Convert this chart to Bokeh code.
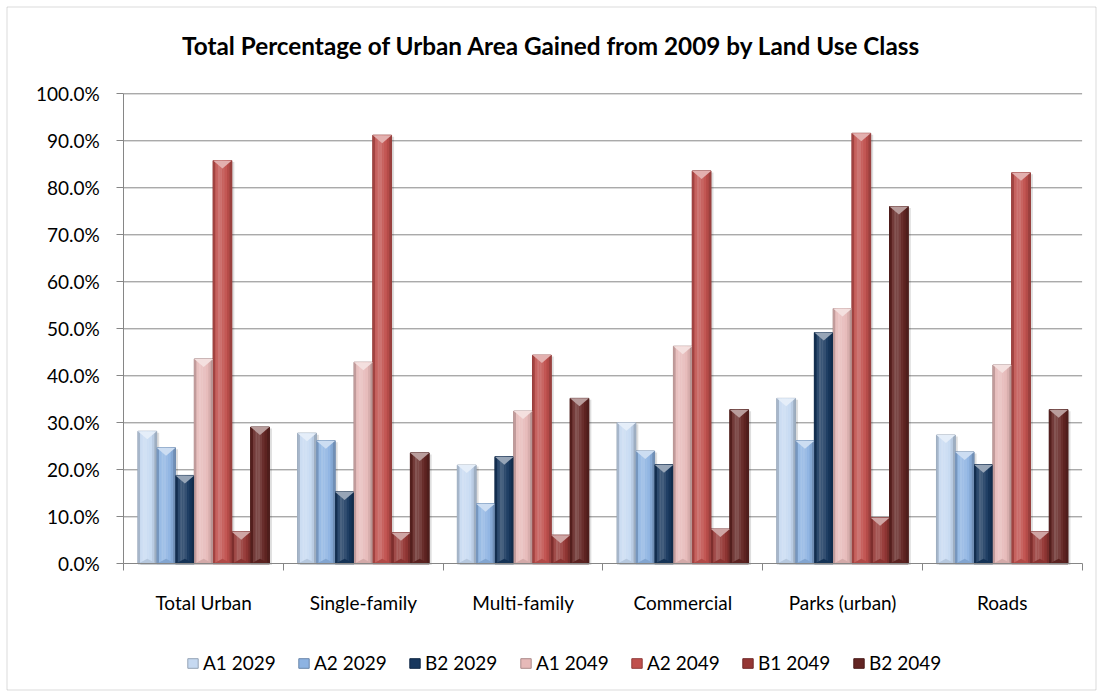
import numpy as np
from bokeh.plotting import figure
from bokeh.models import (Range1d, FixedTicker, PrintfTickFormatter, Legend,
                          LegendItem, BoxAnnotation, Label)
from bokeh.embed import file_html
from bokeh.resources import INLINE

# ---- data -------------------------------------------------------------
categories = ["Total Urban", "Single-family", "Multi-family", "Commercial",
              "Parks (urban)", "Roads"]
series_names = ["A1 2029", "A2 2029", "B2 2029", "A1 2049", "A2 2049",
                "B1 2049", "B2 2049"]

a1_2029 = [28.2, 27.8, 21.0, 30.0, 35.2, 27.4]
a2_2029 = [24.7, 26.2, 12.8, 24.0, 26.2, 23.8]
b2_2029 = [18.8, 15.3, 22.8, 21.1, 49.2, 21.1]
a1_2049 = [43.6, 42.9, 32.5, 46.3, 54.3, 42.3]
a2_2049 = [85.8, 91.2, 44.4, 83.6, 91.6, 83.2]
b1_2049 = [6.8, 6.6, 6.1, 7.4, 9.8, 6.8]
b2_2049 = [29.1, 23.6, 35.2, 32.8, 76.0, 32.8]

series_values = [a1_2029, a2_2029, b2_2029, a1_2049, a2_2049, b1_2049, b2_2049]
series_colors = ["#C6D9F1", "#8DB3E2", "#17375E", "#E6B9B8", "#C0504D",
                 "#953735", "#632523"]
y_ticks = [0, 10, 20, 30, 40, 50, 60, 70, 80, 90, 100]

TITLE = "Total Percentage of Urban Area Gained from 2009 by Land Use Class"
FONT = "Lato"
AXIS_GREY = "#868686"


def mix(hex_color, k):
    """Lighten (k > 0, towards white) or darken (k < 0, towards black)."""
    rgb = [int(hex_color[i:i + 2], 16) for i in (1, 3, 5)]
    out = []
    for c in rgb:
        c = c + (255 - c) * k if k >= 0 else c * (1 + k)
        out.append(int(round(min(255, max(0, c)))))
    return "#%02x%02x%02x" % tuple(out)


# ---- canvas geometry --------------------------------------------------
# The frame fills the whole canvas; the axes sit at fixed data locations
# so that title, legend and outer border can all live inside the frame.
W, H = 1102, 696
PLOT_L, PLOT_R, PLOT_T, PLOT_B = 123.3, 1081.6, 93.3, 563.3
n_cat = len(categories)
ux = n_cat / (PLOT_R - PLOT_L)          # data units per pixel (x)
uy = 100.0 / (PLOT_B - PLOT_T)          # data units per pixel (y)
x_start, x_end = -PLOT_L * ux, n_cat + (W - PLOT_R) * ux
y_start, y_end = -(H - PLOT_B) * uy, 100 + PLOT_T * uy


def sx_to_x(sx):
    return x_start + sx * ux


def sy_to_y(sy):
    return y_end - sy * uy


p = figure(width=W, height=H, x_range=Range1d(x_start, x_end),
           y_range=Range1d(y_start, y_end), output_backend="svg",
           toolbar_location=None, title=None,
           min_border_left=0, min_border_right=0, min_border_top=0,
           min_border_bottom=0,
           background_fill_color="white", border_fill_color="white")
p.outline_line_color = None
p.xgrid.visible = False
p.ygrid.visible = False

# ---- gridlines (behind the bars) -------------------------------------
grid_y = [t for t in y_ticks if t > 0]
p.segment(x0=[0] * len(grid_y), x1=[n_cat] * len(grid_y), y0=grid_y, y1=grid_y,
          line_color=AXIS_GREY, line_width=1, level="underlay")

# ---- bars -------------------------------------------------------------
n_series = len(series_names)
bar_w = 1.0 / (n_series + 1.5)          # 150 % gap between clusters
centers = np.arange(n_cat) + 0.5

# horizontal shading across a bar (cylinder-like bevel)
profile = [-0.16, 0.10, 0.22, 0.20, 0.12, 0.04, -0.06, -0.20]
n_strips = len(profile)
strip_w = bar_w / n_strips

top_facet_h = 8 * uy
bottom_facet_h = 5 * uy

legend_items = []
shadow_x, shadow_top = [], []
strip_x, strip_top, strip_col = [], [], []
tri_xs, tri_ys, tri_col = [], [], []

for i, (name, vals, col) in enumerate(zip(series_names, series_values, series_colors)):
    xs = centers + (i - (n_series - 1) / 2) * bar_w
    for x, v in zip(xs, vals):
        shadow_x.append(x + 2.5 * ux)
        shadow_top.append(v - 1.5 * uy)
        for j, k in enumerate(profile):
            strip_x.append(x - bar_w / 2 + (j + 0.5) * strip_w)
            strip_top.append(v)
            strip_col.append(mix(col, k))
        # top facet (light, pointing down)
        tri_xs.append([x - bar_w / 2, x + bar_w / 2, x])
        tri_ys.append([v, v, v - top_facet_h])
        tri_col.append(mix(col, 0.55))
        # bottom facet (slightly darker, pointing up)
        tri_xs.append([x - bar_w / 2, x + bar_w / 2, x])
        tri_ys.append([0, 0, bottom_facet_h])
        tri_col.append(mix(col, -0.08))

# soft drop shadow
p.vbar(x=shadow_x, top=shadow_top, width=bar_w, bottom=-1.2 * uy,
       fill_color="#000000", fill_alpha=0.13, line_color=None)

# plain bodies (also used as legend swatches)
for i, (name, vals, col) in enumerate(zip(series_names, series_values, series_colors)):
    xs = centers + (i - (n_series - 1) / 2) * bar_w
    r = p.vbar(x=xs, top=vals, width=bar_w, bottom=0, fill_color=col,
               line_color=mix(col, -0.25), line_width=1)
    legend_items.append(LegendItem(label=name, renderers=[r]))

# shaded strips
p.vbar(x=strip_x, top=strip_top, width=strip_w * 1.02, bottom=0,
       fill_color=strip_col, line_color=None)
# bevel facets
p.patches(xs=tri_xs, ys=tri_ys, fill_color=tri_col, line_color=None)

# ---- axes -------------------------------------------------------------
p.yaxis.fixed_location = 0
p.yaxis.bounds = (0, 100)
p.yaxis.ticker = FixedTicker(ticks=y_ticks)
p.yaxis.formatter = PrintfTickFormatter(format="%.1f%%")
p.yaxis.axis_line_color = AXIS_GREY
p.yaxis.major_tick_line_color = AXIS_GREY
p.yaxis.major_tick_out = 7
p.yaxis.major_tick_in = 0
p.yaxis.minor_tick_line_color = None
p.yaxis.major_label_text_font = FONT
p.yaxis.major_label_text_font_size = "19px"
p.yaxis.major_label_text_color = "#000000"
p.yaxis.major_label_standoff = 17

p.xaxis.fixed_location = 0
p.xaxis.bounds = (0, n_cat)
p.xaxis.ticker = FixedTicker(ticks=list(centers),
                             minor_ticks=list(range(n_cat + 1)))
p.xaxis.major_label_overrides = {float(c): lab for c, lab in zip(centers, categories)}
p.xaxis.axis_line_color = AXIS_GREY
p.xaxis.major_tick_line_color = None
p.xaxis.major_tick_out = 0
p.xaxis.major_tick_in = 0
p.xaxis.minor_tick_line_color = AXIS_GREY
p.xaxis.minor_tick_out = 7
p.xaxis.minor_tick_in = 0
p.xaxis.major_label_text_font = FONT
p.xaxis.major_label_text_font_size = "19px"
p.xaxis.major_label_text_color = "#000000"
p.xaxis.major_label_standoff = 20

# ---- title ------------------------------------------------------------
p.add_layout(Label(x=sx_to_x(551), y=sy_to_y(45), text=TITLE,
                   text_align="center", text_baseline="middle",
                   text_font=FONT, text_font_style="bold",
                   text_font_size="24.3px", text_color="#000000"))

# ---- legend -----------------------------------------------------------
legend = Legend(items=legend_items, orientation="horizontal",
                location=(186, 22), glyph_width=13, glyph_height=12,
                label_standoff=4, label_width=84, spacing=10, padding=0,
                margin=0, border_line_color=None, background_fill_alpha=0,
                label_text_font=FONT, label_text_font_size="19px",
                label_text_color="#000000")
p.add_layout(legend)

# ---- outer chart border -----------------------------------------------
p.add_layout(BoxAnnotation(left=sx_to_x(6.5), right=sx_to_x(W - 6.5),
                           top=sy_to_y(6.5), bottom=sy_to_y(H - 6.5),
                           fill_alpha=0, line_color=AXIS_GREY, line_width=1))

open("out.html", "w").write(file_html(p, INLINE, title=TITLE))
